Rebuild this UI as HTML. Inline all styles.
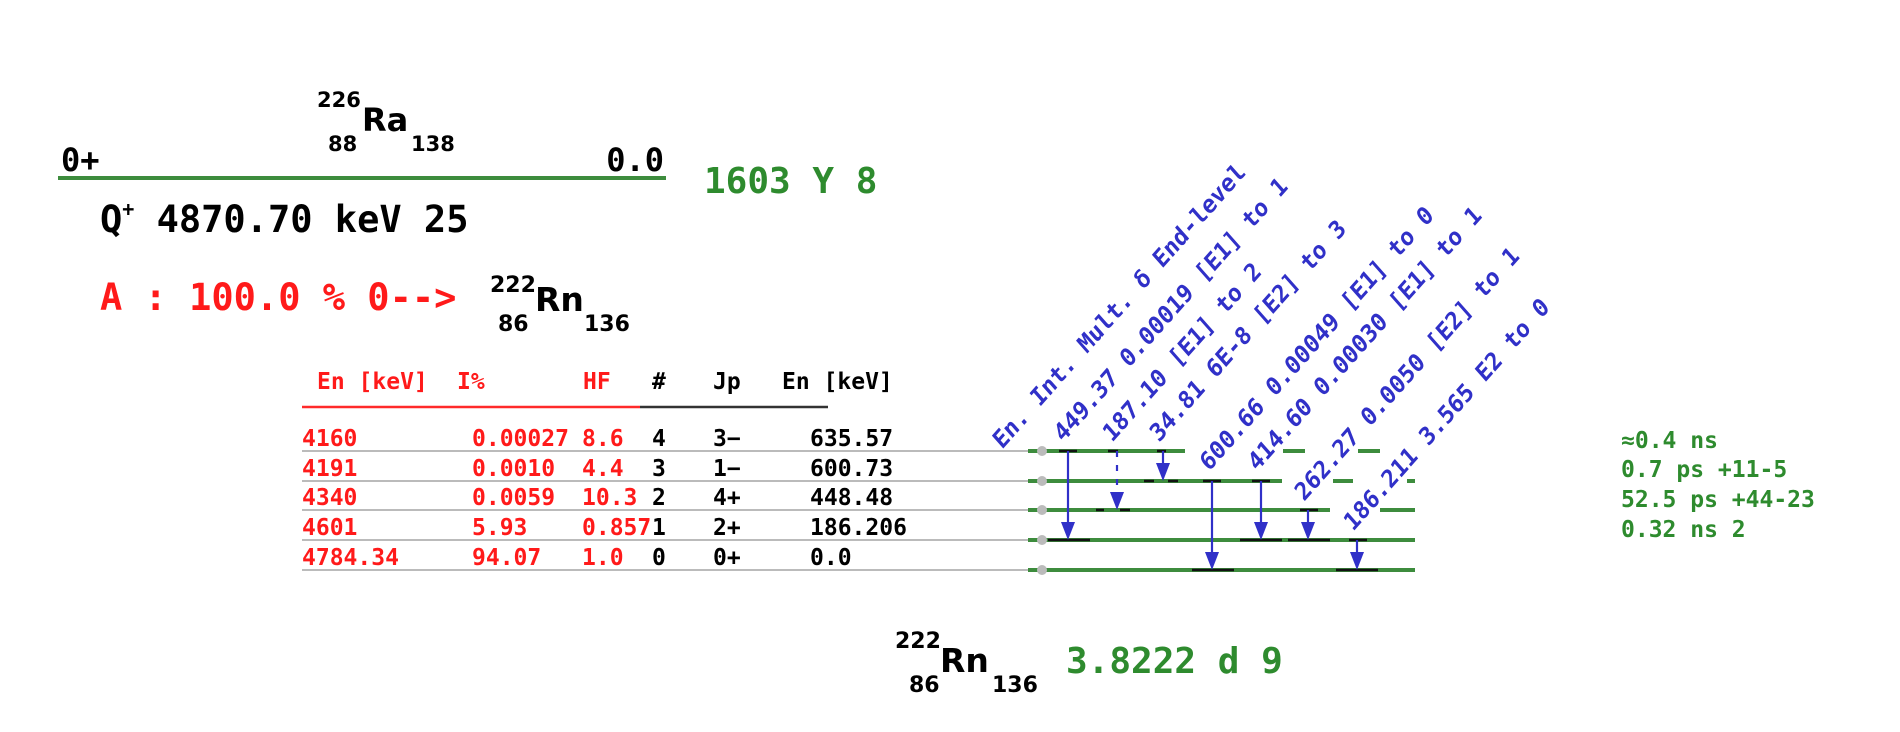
<!DOCTYPE html>
<html><head><meta charset="utf-8"><style>
html,body{margin:0;padding:0;background:#fff;}
svg{display:block;}
.m{font-family:"DejaVu Sans Mono","Liberation Mono",monospace;font-weight:bold;}
.s{font-family:"DejaVu Sans","Liberation Sans",sans-serif;font-weight:bold;}
</style></head><body>
<svg width="1900" height="732" viewBox="0 0 1900 732" xmlns="http://www.w3.org/2000/svg">
<!-- parent -->
<text class="s" x="317" y="107" font-size="21">226</text>
<text class="s" x="362" y="131" font-size="32">Ra</text>
<text class="s" x="328" y="151" font-size="21">88</text>
<text class="s" x="411" y="151" font-size="21">138</text>
<text class="m" x="61" y="171" font-size="32">0+</text>
<text class="m" x="664" y="171" font-size="32" text-anchor="end">0.0</text>
<line x1="58" y1="178" x2="666" y2="178" stroke="#3d8c3d" stroke-width="4"/>
<text class="m" x="704" y="193" font-size="36" fill="#2e8b2e">1603 Y 8</text>
<text class="m" x="100" y="232" font-size="37">Q<tspan font-size="20" dy="-16">+</tspan><tspan dy="16"> 4870.70 keV 25</tspan></text>
<text class="m" x="100" y="310" font-size="37" fill="#ff1a1a">A : 100.0 % 0--&gt;</text>
<text class="s" x="490" y="292" font-size="22">222</text>
<text class="s" x="535" y="311" font-size="33">Rn</text>
<text class="s" x="498" y="331" font-size="22">86</text>
<text class="s" x="584" y="331" font-size="22">136</text>
<!-- table header -->
<g class="m" font-size="23">
<text x="317" y="389" fill="#ff1a1a">En [keV]</text>
<text x="457" y="389" fill="#ff1a1a">I%</text>
<text x="583" y="389" fill="#ff1a1a">HF</text>
<text x="652" y="389">#</text>
<text x="713" y="389">Jp</text>
<text x="782" y="389">En [keV]</text>
</g>
<line x1="302" y1="407" x2="640" y2="407" stroke="#ff2a2a" stroke-width="2.5"/>
<line x1="640" y1="407" x2="828" y2="407" stroke="#333" stroke-width="2.5"/>
<!-- rows -->
<g stroke="#bbb" stroke-width="2">
<line x1="302" y1="451" x2="1040" y2="451"/>
<line x1="302" y1="481" x2="1040" y2="481"/>
<line x1="302" y1="510" x2="1040" y2="510"/>
<line x1="302" y1="540" x2="1040" y2="540"/>
<line x1="302" y1="570" x2="1040" y2="570"/>
</g>
<g class="m" font-size="23">
<g fill="#ff1a1a">
<text x="302" y="446">4160</text><text x="472" y="446">0.00027</text><text x="582" y="446">8.6</text>
<text x="302" y="476">4191</text><text x="472" y="476">0.0010</text><text x="582" y="476">4.4</text>
<text x="302" y="505">4340</text><text x="472" y="505">0.0059</text><text x="582" y="505">10.3</text>
<text x="302" y="535">4601</text><text x="472" y="535">5.93</text><text x="582" y="535">0.857</text>
<text x="302" y="565">4784.34</text><text x="472" y="565">94.07</text><text x="582" y="565">1.0</text>
</g>
<text x="652" y="446">4</text><text x="713" y="446">3−</text><text x="810" y="446">635.57</text>
<text x="652" y="476">3</text><text x="713" y="476">1−</text><text x="810" y="476">600.73</text>
<text x="652" y="505">2</text><text x="713" y="505">4+</text><text x="810" y="505">448.48</text>
<text x="652" y="535">1</text><text x="713" y="535">2+</text><text x="810" y="535">186.206</text>
<text x="652" y="565">0</text><text x="713" y="565">0+</text><text x="810" y="565">0.0</text>
</g>
<!-- levels -->
<g stroke="#3d8c3d" stroke-width="4">
<line x1="1028" y1="451" x2="1185" y2="451"/><line x1="1283" y1="451" x2="1305" y2="451"/><line x1="1358" y1="451" x2="1380" y2="451"/>
<line x1="1028" y1="481" x2="1282" y2="481"/><line x1="1333" y1="481" x2="1353" y2="481"/><line x1="1407" y1="481" x2="1415" y2="481"/>
<line x1="1028" y1="510" x2="1330" y2="510"/><line x1="1380" y1="510" x2="1415" y2="510"/>
<line x1="1028" y1="540" x2="1415" y2="540"/>
<line x1="1028" y1="570" x2="1415" y2="570"/>
</g>
<g fill="#bbb">
<circle cx="1042" cy="451" r="5"/><circle cx="1042" cy="481" r="5"/><circle cx="1042" cy="510" r="5"/><circle cx="1042" cy="540" r="5"/><circle cx="1042" cy="570" r="5"/>
</g>
<!-- transitions -->
<g stroke="#111" stroke-width="2.5">
<line x1="1059" y1="451" x2="1077" y2="451"/><line x1="1048" y1="540" x2="1090" y2="540"/>
<line x1="1108" y1="451" x2="1118" y2="451"/><line x1="1096" y1="510" x2="1104" y2="510"/><line x1="1120" y1="510" x2="1130" y2="510"/>
<line x1="1157" y1="451" x2="1166" y2="451"/><line x1="1144" y1="481" x2="1154" y2="481"/><line x1="1168" y1="481" x2="1178" y2="481"/>
<line x1="1203" y1="481" x2="1221" y2="481"/><line x1="1192" y1="570" x2="1234" y2="570"/>
<line x1="1252" y1="481" x2="1270" y2="481"/><line x1="1240" y1="540" x2="1282" y2="540"/>
<line x1="1300" y1="510" x2="1318" y2="510"/><line x1="1288" y1="540" x2="1330" y2="540"/>
<line x1="1349" y1="540" x2="1367" y2="540"/><line x1="1336" y1="570" x2="1378" y2="570"/>
</g>
<g stroke="#3030c8" stroke-width="2.2">
<line x1="1068" y1="451" x2="1068" y2="524"/>
<line x1="1117" y1="451" x2="1117" y2="494" stroke-dasharray="6,8"/>
<line x1="1163" y1="451" x2="1163" y2="466"/>
<line x1="1212" y1="481" x2="1212" y2="554"/>
<line x1="1261" y1="481" x2="1261" y2="524"/>
<line x1="1308" y1="510" x2="1308" y2="524"/>
<line x1="1357" y1="540" x2="1357" y2="554"/>
</g>
<g fill="#3030c8">
<polygon points="1061,522 1075,522 1068,540"/>
<polygon points="1110,492 1124,492 1117,510"/>
<polygon points="1156,463 1170,463 1163,481"/>
<polygon points="1205,552 1219,552 1212,570"/>
<polygon points="1254,522 1268,522 1261,540"/>
<polygon points="1301,522 1315,522 1308,540"/>
<polygon points="1350,552 1364,552 1357,570"/>
</g>
<!-- rotated labels -->
<g class="m" font-size="25" fill="#3030c8">
<text transform="translate(1002,450) scale(0.885,1) rotate(-45)">En. Int. Mult. δ End-level</text>
<text transform="translate(1063,443) scale(0.885,1) rotate(-45)">449.37 0.00019 [E1] to 1</text>
<text transform="translate(1112,443) scale(0.885,1) rotate(-45)">187.10 [E1] to 2</text>
<text transform="translate(1159,443) scale(0.885,1) rotate(-45)">34.81 6E-8 [E2] to 3</text>
<text transform="translate(1209,472) scale(0.885,1) rotate(-45)">600.66 0.00049 [E1] to 0</text>
<text transform="translate(1257,472) scale(0.885,1) rotate(-45)">414.60 0.00030 [E1] to 1</text>
<text transform="translate(1304,502) scale(0.885,1) rotate(-45)">262.27 0.0050 [E2] to 1</text>
<text transform="translate(1353,532) scale(0.885,1) rotate(-45)">186.211 3.565 E2 to 0</text>
</g>
<!-- half-lives -->
<g class="m" font-size="23" fill="#2e8b2e">
<text x="1621" y="448">≈0.4 ns</text>
<text x="1621" y="477">0.7 ps +11-5</text>
<text x="1621" y="507">52.5 ps +44-23</text>
<text x="1621" y="537">0.32 ns 2</text>
</g>
<!-- daughter -->
<text class="s" x="895" y="648" font-size="22">222</text>
<text class="s" x="940" y="672" font-size="33">Rn</text>
<text class="s" x="909" y="692" font-size="22">86</text>
<text class="s" x="992" y="692" font-size="22">136</text>
<text class="m" x="1066" y="673" font-size="36" fill="#2e8b2e">3.8222 d 9</text>
</svg>
</body></html>
